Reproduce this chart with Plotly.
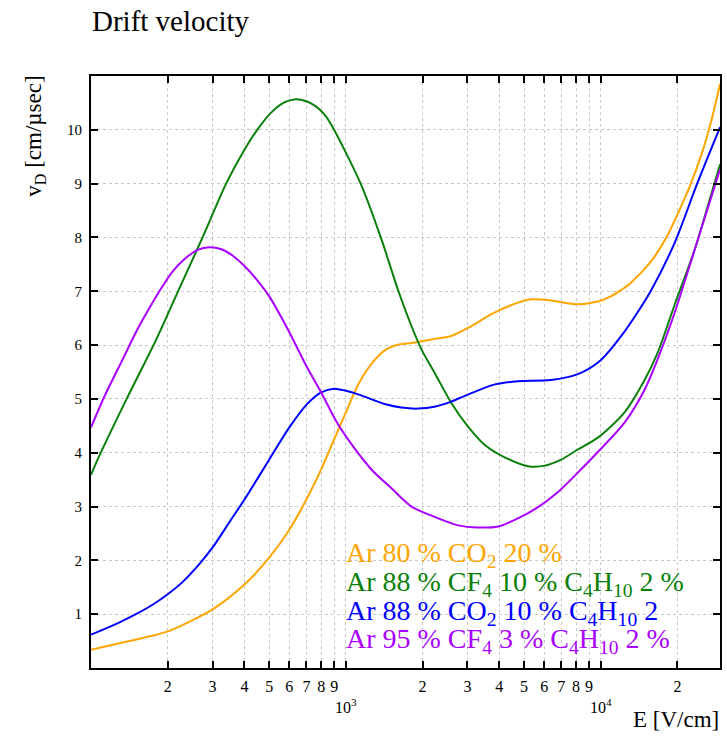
import plotly.graph_objects as go

# ---- data ----
E_orange = [100, 170, 200, 300, 400, 500, 600, 700, 800, 900, 1000, 1125, 1265, 1430, 1608, 1810, 1980,
            2250, 2590, 3100, 3710, 4440, 5320, 6370, 7930, 9740, 10900, 12000, 13070, 15670, 18000,
            20100, 22500, 25000, 27000, 29400]
v_orange = [0.34, 0.59, 0.68, 1.09, 1.55, 2.05, 2.57, 3.13, 3.69, 4.25, 4.75, 5.29, 5.66, 5.91, 6.01,
            6.04, 6.07, 6.12, 6.17, 6.35, 6.57, 6.74, 6.85, 6.83, 6.76, 6.81, 6.90, 7.02, 7.15, 7.54, 7.98,
            8.45, 8.98, 9.58, 10.12, 10.85]

E_green = [100, 108, 138, 181, 222, 274, 339, 399, 449, 509, 573, 637, 700, 760, 822, 880, 1143,
           1371, 1608, 1810, 1980, 2250, 2590, 3010, 3500, 4220, 5190, 6040, 6990, 8130,
           9740, 12400, 14900, 16700, 19500, 23400, 26000, 29400]
v_green = [3.59, 3.95, 5.0, 6.12, 7.05, 8.0, 9.0, 9.62, 10.0, 10.32, 10.51, 10.57, 10.53, 10.44, 10.29,
           10.08, 9.0, 8.0, 7.0, 6.35, 5.92, 5.45, 4.93, 4.49, 4.15, 3.91, 3.75, 3.76, 3.87, 4.06,
           4.28, 4.75, 5.36, 5.85, 6.75, 7.78, 8.5, 9.36]

E_blue = [100, 127, 150, 175, 200, 229, 266, 300, 348, 400, 457, 500, 600, 700, 800, 900, 1000, 1125,
          1432, 1650, 1920, 2250, 2590, 3010, 3850, 4730, 6370, 8130, 10000, 12000, 14000, 15700,
          19500, 23900, 29400]
v_blue = [0.62, 0.83, 1.00, 1.18, 1.37, 1.60, 1.93, 2.24, 2.70, 3.13, 3.57, 3.87, 4.47, 4.89, 5.12,
          5.19, 5.15, 5.08, 4.90, 4.84, 4.82, 4.86, 4.95, 5.08, 5.27, 5.33, 5.35, 5.46, 5.72, 6.16,
          6.62, 7.0, 7.9, 9.0, 10.05]

E_purple = [100, 113, 133, 152, 170, 190, 210, 233, 262, 292, 325, 360, 400, 450, 500, 600, 700, 800,
            923, 1055, 1265, 1510, 1810, 2250, 2760, 3300, 3960, 4730, 5640, 6800, 8130, 9150,
            12400, 14900, 16700, 19500, 23400, 29400]
v_purple = [4.47, 5.05, 5.73, 6.29, 6.70, 7.08, 7.38, 7.60, 7.77, 7.82, 7.78, 7.66, 7.47, 7.20, 6.91,
            6.24, 5.61, 5.12, 4.56, 4.15, 3.68, 3.34, 3.00, 2.80, 2.65, 2.61, 2.63, 2.78, 2.98, 3.27,
            3.63, 3.88, 4.56, 5.18, 5.73, 6.60, 7.78, 9.27]

series_names = ["Ar 80 % CO<sub>2</sub> 20 %",
                "Ar 88 % CF<sub>4</sub> 10 % C<sub>4</sub>H<sub>10</sub> 2 %",
                "Ar 88 % CO<sub>2</sub> 10 % C<sub>4</sub>H<sub>10</sub> 2",
                "Ar 95 % CF<sub>4</sub> 3 % C<sub>4</sub>H<sub>10</sub> 2 %"]
colors = ["#ffa500", "#0a800a", "#0000ff", "#aa00ff"]

x_tickvals = [200, 300, 400, 500, 600, 700, 800, 900, 1000,
              2000, 3000, 4000, 5000, 6000, 7000, 8000, 9000, 10000, 20000]
x_ticktext = ["2", "3", "4", "5", "6", "7", "8", "9", " <br>10<sup>3</sup>",
              "2", "3", "4", "5", "6", "7", "8", "9", " <br>10<sup>4</sup>", "2"]
y_tickvals = [1, 2, 3, 4, 5, 6, 7, 8, 9, 10]

FONT = "Liberation Serif, Times New Roman, serif"

fig = go.Figure()
for E, v, c, n in zip([E_orange, E_green, E_blue, E_purple],
                      [v_orange, v_green, v_blue, v_purple], colors, series_names):
    fig.add_trace(go.Scatter(x=E, y=v, mode="lines", name=n,
                             line=dict(color=c, width=2, shape="spline", smoothing=0.8),
                             showlegend=False))

W, H = 727, 737
L, R, T, B = 91, 5, 76, 69
pw, ph = W - L - R, H - T - B

def px2paper_x(px):
    return (px - L) / pw

def py2paper_y(py):
    return (H - B - py) / ph

fig.update_layout(
    width=W, height=H,
    margin=dict(l=L, r=R, t=T, b=B),
    paper_bgcolor="white", plot_bgcolor="white",
    font=dict(family=FONT, color="black", size=15),
    title=dict(text="Drift velocity", x=92 / W, xanchor="left", xref="container",
               y=1 - 21 / H, yanchor="middle", yref="container",
               font=dict(family=FONT, size=29, color="black")),
    xaxis=dict(type="log", range=[2, 4.468], tickvals=x_tickvals, ticktext=x_ticktext,
               tickangle=0,
               ticks="inside", ticklen=7, tickwidth=2, tickcolor="black",
               showline=True, linewidth=2, linecolor="black", mirror="ticks",
               showgrid=True, gridcolor="#c8c8c8", griddash="dot", gridwidth=1,
               zeroline=False, tickfont=dict(family=FONT, size=16), ticklabelstandoff=3),
    yaxis=dict(range=[0, 11], tickvals=y_tickvals,
               ticks="inside", ticklen=7, tickwidth=2, tickcolor="black",
               showline=True, linewidth=2, linecolor="black", mirror="ticks",
               showgrid=True, gridcolor="#c8c8c8", griddash="dot", gridwidth=1,
               zeroline=False, tickfont=dict(family=FONT, size=15), ticklabelstandoff=4),
)

# y-axis title (right aligned to top, as in the reference)
fig.add_annotation(text="v<sub>D</sub> [cm/µsec]", textangle=-90, showarrow=False,
                   xref="paper", yref="paper", x=px2paper_x(34), y=py2paper_y(74),
                   xanchor="center", yanchor="top", font=dict(family=FONT, size=23, color="black"))
# x-axis title
fig.add_annotation(text="E [V/cm]", showarrow=False, xref="paper", yref="paper",
                   x=px2paper_x(723), y=py2paper_y(719), xanchor="right", yanchor="middle",
                   font=dict(family=FONT, size=23, color="black"))

# legend text lines
legend_y = [551, 580, 609, 637]
for n, c, ly in zip(series_names, colors, legend_y):
    fig.add_annotation(text=n, showarrow=False, xref="paper", yref="paper",
                       x=px2paper_x(345), y=py2paper_y(ly + 3), xanchor="left", yanchor="middle",
                       font=dict(family=FONT, size=28, color=c))

fig.write_html("out.html")
